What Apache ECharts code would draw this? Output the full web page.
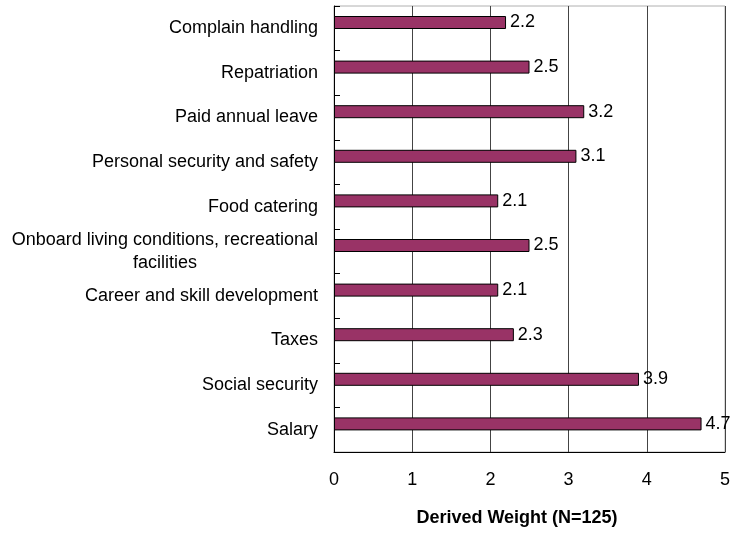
<!DOCTYPE html>
<html>
<head>
<meta charset="utf-8">
<script src="https://cdn.jsdelivr.net/npm/echarts@6/dist/echarts.min.js"></script>
<style>
html,body{margin:0;padding:0;background:#fff;}
#chart{width:733px;height:533px;}
</style>
</head>
<body>
<div id="chart"></div>
<script>
var categories = [
  "Complain handling",
  "Repatriation",
  "Paid annual leave",
  "Personal security and safety",
  "Food catering",
  "Onboard living conditions, recreational\nfacilities",
  "Career and skill development",
  "Taxes",
  "Social security",
  "Salary"
];
var weights = [2.2, 2.5, 3.2, 3.1, 2.1, 2.5, 2.1, 2.3, 3.9, 4.7];
var xTicks = [0, 1, 2, 3, 4, 5];
var axisTitle = "Derived Weight (N=125)";

var FONT = '"Liberation Sans", Arial, sans-serif';
var chart = echarts.init(document.getElementById('chart'), null, {renderer: 'canvas'});
chart.setOption({
  animation: false,
  backgroundColor: '#ffffff',
  grid: {left: 334, right: 8, top: 6, bottom: 81, containLabel: false,
         outerBoundsMode: 'none',
         show: true, borderColor: '#b0b0b0', borderWidth: 1},
  xAxis: {
    type: 'value',
    min: xTicks[0], max: xTicks[xTicks.length - 1], interval: 1,
    axisLine: {show: true, lineStyle: {color: '#000', width: 1}},
    axisTick: {show: false},
    splitLine: {show: true, lineStyle: {color: '#444', width: 1}},
    axisLabel: {color: '#000', fontSize: 18, fontFamily: FONT, margin: 19},
    name: axisTitle,
    nameLocation: 'middle',
    nameGap: 57,
    nameTextStyle: {color: '#000', fontSize: 18, fontWeight: 'bold', fontFamily: FONT, padding: [0, 25, 0, 0]}
  },
  yAxis: {
    type: 'category',
    data: categories,
    inverse: true,
    axisLine: {show: true, lineStyle: {color: '#000', width: 1}},
    axisTick: {show: true, inside: true, length: 6, lineStyle: {color: '#000'}},
    splitLine: {show: false},
    axisLabel: {
      color: '#000', fontSize: 18, fontFamily: FONT, margin: 16,
      formatter: function (v) {
        if (v.indexOf('\n') < 0) return v;
        return v.split('\n').map(function (s) { return '{c|' + s + '}'; }).join('\n');
      },
      rich: {c: {align: 'center', fontSize: 18, fontFamily: FONT, color: '#000', lineHeight: 23}}
    }
  },
  series: [
    {
      type: 'bar',
      data: weights,
      barWidth: 13,
      barGap: '0%',
      itemStyle: {color: '#993366', borderColor: '#000', borderWidth: 1},
      label: {show: true, position: 'right', distance: 4, color: '#000', fontSize: 18, fontFamily: FONT}
    },
    {
      type: 'bar',
      data: weights.map(function () { return null; }),
      barWidth: 11.6,
      silent: true
    }
  ]
});
</script>
</body>
</html>
